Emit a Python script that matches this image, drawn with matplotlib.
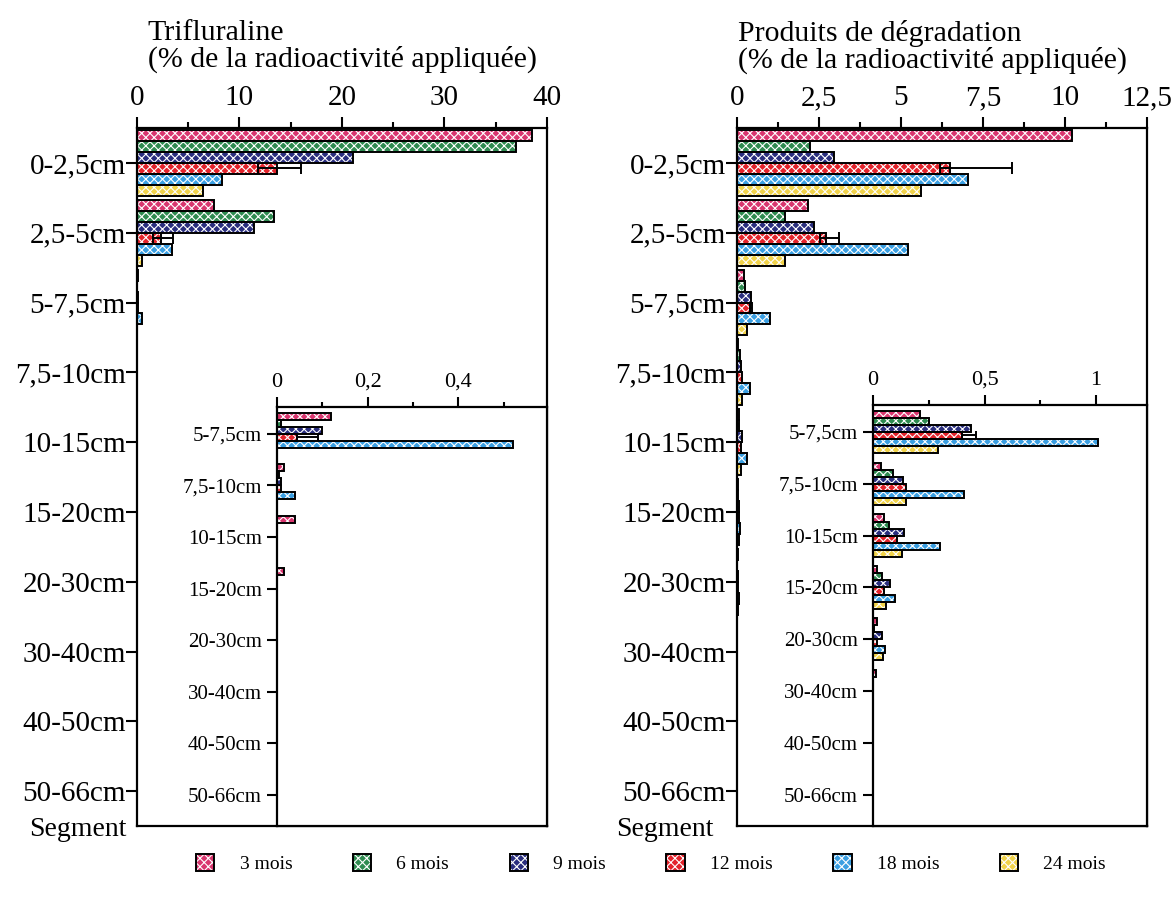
import numpy as np
import matplotlib.pyplot as plt
from matplotlib.patches import Patch

plt.rcParams['font.family'] = ['Liberation Serif', 'DejaVu Serif']
plt.rcParams['hatch.linewidth'] = 0.8

# Segments of the soil column and sampling periods
segments = ['0-2,5cm', '2,5-5cm', '5-7,5cm', '7,5-10cm', '10-15cm', '15-20cm',
            '20-30cm', '30-40cm', '40-50cm', '50-66cm']
periods = ['3 mois', '6 mois', '9 mois', '12 mois', '18 mois', '24 mois']
colors = ['#d9366f', '#2e8b50', '#2a2e7e', '#e3232b', '#3a9fe2', '#f1d34a']

# Trifluraline (% of applied radioactivity)
tri_3 = [38.5, 7.5, 0.12, 0.015, 0.04, 0.015, 0, 0, 0, 0]
tri_6 = [37.0, 13.4, 0.008, 0.005, 0, 0, 0, 0, 0, 0]
tri_9 = [21.1, 11.4, 0.10, 0.01, 0, 0, 0, 0, 0, 0]
tri_12 = [13.7, 2.3, 0.045, 0.01, 0, 0, 0, 0, 0, 0]
tri_18 = [8.3, 3.4, 0.52, 0.04, 0, 0, 0, 0, 0, 0]
tri_24 = [6.4, 0.5, 0, 0, 0, 0, 0, 0, 0, 0]
tri_err_lo = [1.9, 0.7, 0.0, 0, 0, 0, 0, 0, 0, 0]
tri_err_hi = [2.3, 1.2, 0.045, 0, 0, 0, 0, 0, 0, 0]

# Degradation products (% of applied radioactivity)
deg_3 = [10.2, 2.16, 0.21, 0.035, 0.05, 0.02, 0.02, 0.015, 0, 0]
deg_6 = [2.23, 1.45, 0.25, 0.09, 0.07, 0.04, 0.005, 0, 0, 0]
deg_9 = [2.95, 2.34, 0.44, 0.135, 0.14, 0.075, 0.04, 0, 0, 0]
deg_12 = [6.5, 2.72, 0.40, 0.15, 0.11, 0.05, 0.02, 0, 0, 0]
deg_18 = [7.05, 5.2, 1.01, 0.41, 0.30, 0.10, 0.055, 0, 0, 0]
deg_24 = [5.6, 1.45, 0.29, 0.15, 0.13, 0.06, 0.045, 0, 0, 0]
deg_err_lo = [0.3, 0.2, 0.0, 0, 0, 0, 0, 0, 0, 0]
deg_err_hi = [1.9, 0.4, 0.06, 0, 0, 0, 0, 0, 0, 0]

tri = [tri_3, tri_6, tri_9, tri_12, tri_18, tri_24]
deg = [deg_3, deg_6, deg_9, deg_12, deg_18, deg_24]


def draw_bars(ax, data, err_lo, err_hi, start, height, capsize):
    pos = np.arange(len(segments) - start)
    for i, vals in enumerate(data):
        y = pos + (i - 2.5) * height
        v = vals[start:]
        ax.barh(y, v, height=height, color=colors[i], edgecolor='white',
                linewidth=0, hatch='xxxx', zorder=2)
        ax.barh(y, v, height=height, fill=False, edgecolor='black',
                linewidth=1.4, zorder=3)
    lo = np.array(err_lo[start:])
    hi = np.array(err_hi[start:])
    mask = (lo + hi) > 0
    y12 = pos + 0.5 * height
    v12 = np.array(data[3][start:])
    ax.errorbar(v12[mask], y12[mask], xerr=[lo[mask], hi[mask]], fmt='none',
                ecolor='black', elinewidth=1.4, capsize=capsize, capthick=1.4,
                zorder=4)


def setup(ax, xlim, major, labels, minor, ylim, ylabels, tick_fs, lab_fs,
          tlen, ypad):
    ax.set_xlim(*xlim)
    ax.set_ylim(*ylim)
    ax.xaxis.tick_top()
    ax.set_xticks(major, labels)
    ax.set_xticks(minor, minor=True)
    ax.set_yticks(np.arange(len(ylabels)), ylabels)
    ax.tick_params(axis='x', which='major', direction='out', length=tlen,
                   width=1.5, labelsize=tick_fs, pad=4)
    ax.tick_params(axis='x', which='minor', direction='out',
                   length=tlen * 0.5, width=1.5)
    ax.tick_params(axis='y', direction='out', length=tlen, width=1.5,
                   labelsize=lab_fs, pad=ypad)
    for s in ax.spines.values():
        s.set_linewidth(1.6)


fig = plt.figure(figsize=(11.73, 9.06), dpi=100)

# Trifluraline main panel and inset
ax1 = fig.add_axes([0.1168, 0.0883, 0.3495, 0.7704])
draw_bars(ax1, tri, tri_err_lo, tri_err_hi, 0, 0.157, 4)
setup(ax1, (0, 40), [0, 10, 20, 30, 40], ['0', '10', '20', '30', '40'],
      [5, 15, 25, 35], (9.5, -0.5), segments, 21, 21, 8, 0)

ax1i = fig.add_axes([0.2361, 0.0883, 0.2302, 0.4625])
draw_bars(ax1i, tri, tri_err_lo, tri_err_hi, 2, 0.136, 3)
setup(ax1i, (0, 0.595), [0, 0.2, 0.4], ['0', '0,2', '0,4'], [0.1, 0.3, 0.5],
      (7.6, -0.52), segments[2:], 16, 15, 7, 4)

# Degradation products main panel and inset
ax2 = fig.add_axes([0.6283, 0.0883, 0.3495, 0.7704])
draw_bars(ax2, deg, deg_err_lo, deg_err_hi, 0, 0.157, 4)
setup(ax2, (0, 12.5), [0, 2.5, 5, 7.5, 10, 12.5],
      ['0', '2,5', '5', '7,5', '10', '12,5'],
      [1.25, 3.75, 6.25, 8.75, 11.25], (9.5, -0.5), segments, 21, 21, 8, 0)

ax2i = fig.add_axes([0.7442, 0.0883, 0.2336, 0.4647])
draw_bars(ax2i, deg, deg_err_lo, deg_err_hi, 2, 0.136, 3)
setup(ax2i, (0, 1.228), [0, 0.5, 1], ['0', '0,5', '1'], [0.25, 0.75],
      (7.6, -0.52), segments[2:], 16, 15, 7, 4)

# Titles and "Segment" labels
fig.text(0.126, 0.978, 'Trifluraline\n(% de la radioactivité appliquée)',
         fontsize=21.5, va='top', ha='left', linespacing=1.0)
fig.text(0.629, 0.978, 'Produits de dégradation\n(% de la radioactivité appliquée)',
         fontsize=21.5, va='top', ha='left', linespacing=1.0)
fig.text(0.025, 0.084, 'Segment', fontsize=20, va='center')
fig.text(0.525, 0.084, 'Segment', fontsize=20, va='center')

# Legend
handles = [(Patch(facecolor=c, edgecolor='white', linewidth=0, hatch='xxxx'),
            Patch(fill=False, edgecolor='black', linewidth=1.4)) for c in colors]
fig.legend(handles, periods, loc='center', bbox_to_anchor=(0.555, 0.047),
           ncol=6, frameon=False, fontsize=14, handlelength=0.95,
           handleheight=0.95, handletextpad=1.3, columnspacing=3.1)

fig.savefig('out.png', dpi=100)
